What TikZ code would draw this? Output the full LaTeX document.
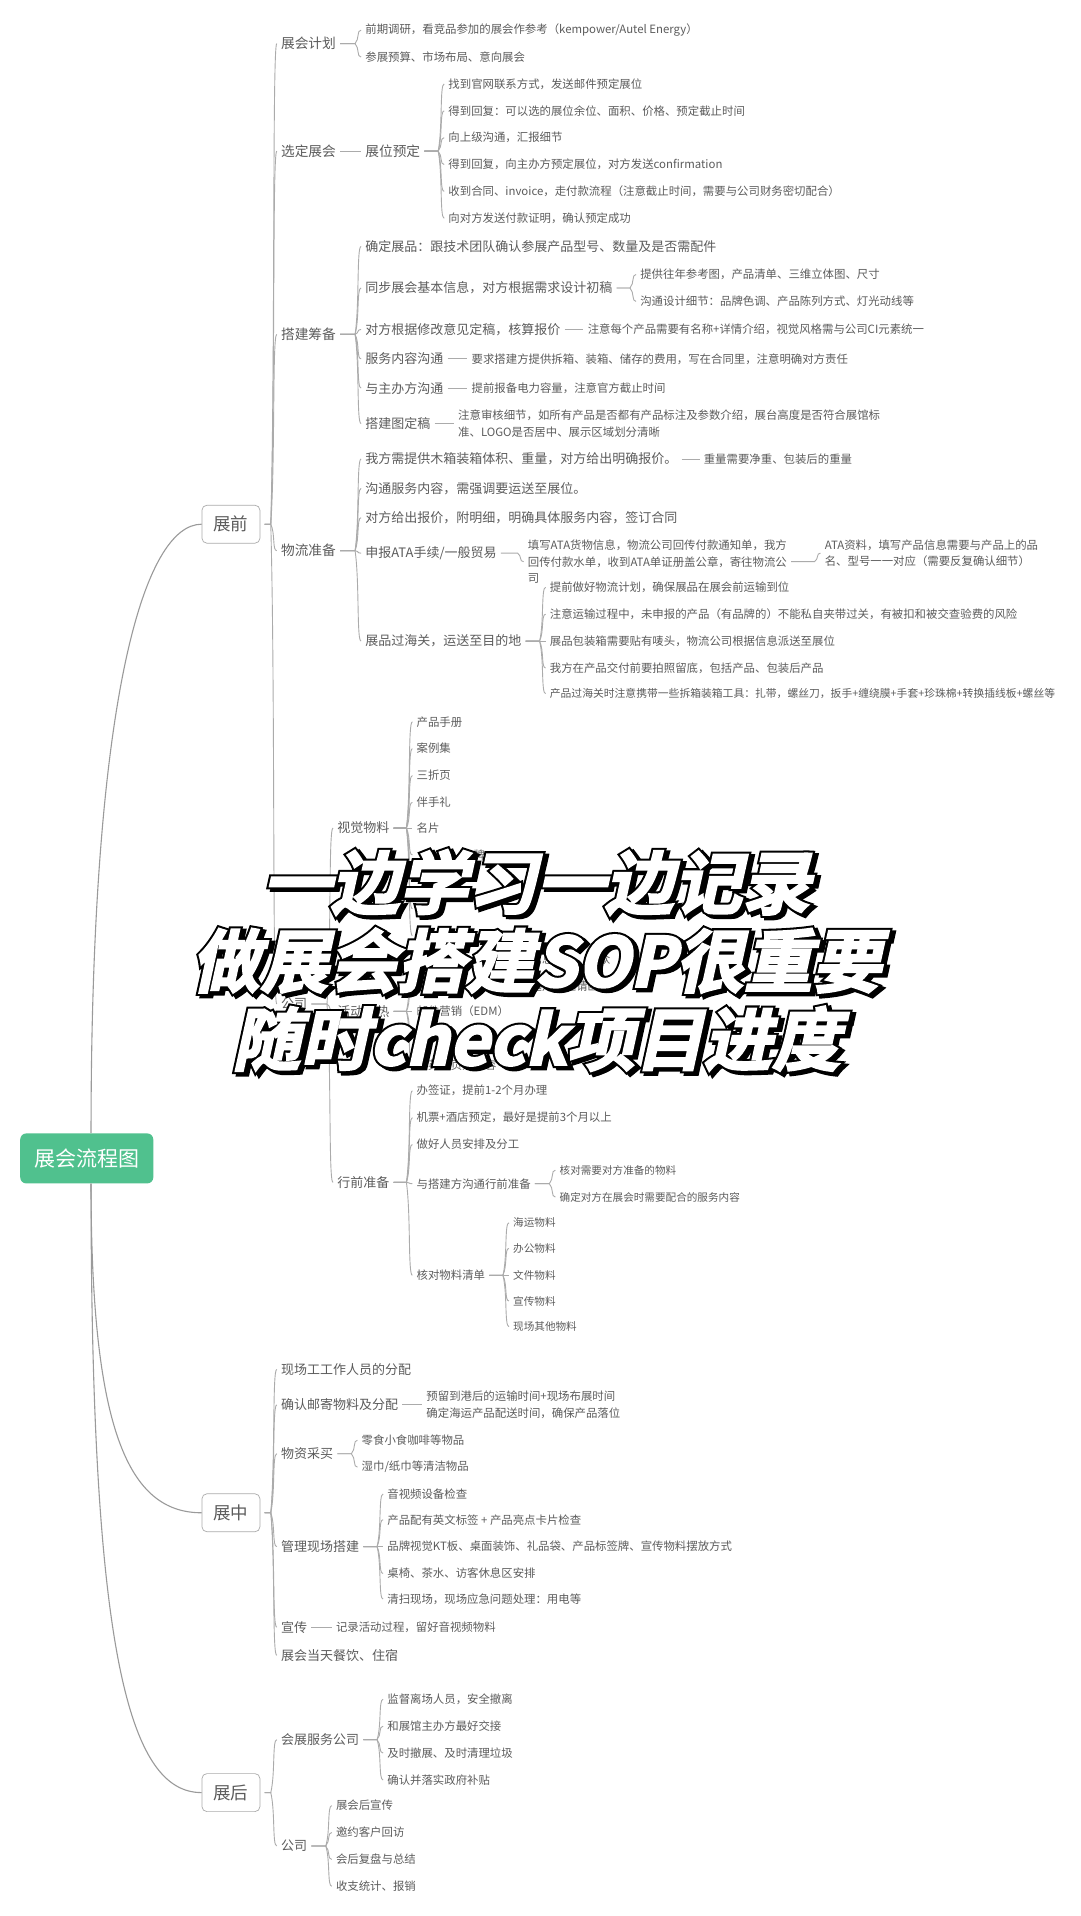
\documentclass[tikz,border=0pt]{standalone}
\usepackage{fontspec}
\usetikzlibrary{calc}
\setmainfont{Noto Sans CJK SC}
\newfontfamily\ovltop[FakeSlant=0.22,FakeBold=3]{Noto Sans CJK SC Bold}
\newfontfamily\ovlline[FakeSlant=0.22,FakeBold=9]{Noto Sans CJK SC Bold}
\definecolor{inkc}{HTML}{5C5C5C}
\definecolor{linkc}{HTML}{ABABAB}
\definecolor{trunkc}{HTML}{9A9A9A}
\definecolor{rootc}{HTML}{50C18E}
\tikzset{
 txb/.style={anchor=west,inner sep=0pt,outer sep=0pt,text=inkc,align=left,yshift=-0.8pt},
 ta/.style={txb,font=\fontsize{13.7}{17}\selectfont},
 tb/.style={txb,font=\fontsize{13}{17}\selectfont},
 te/.style={txb,font=\fontsize{11.4}{17}\selectfont},
 tc/.style={txb,font=\fontsize{11.4}{16.8}\selectfont},
 tf/.style={txb,font=\fontsize{10.8}{16.8}\selectfont},
 td/.style={txb,font=\fontsize{10.6}{14}\selectfont},
 topbox/.style={draw=linkc,line width=0.7pt,rounded corners=5pt,minimum width=58pt,minimum height=38pt,inner sep=0pt,text=inkc,font=\fontsize{17.5}{20}\selectfont,fill=white},
 rootbox/.style={fill=rootc,rounded corners=6pt,minimum width=133pt,minimum height=50pt,inner sep=0pt,text=white,font=\fontsize{21}{24}\selectfont},
 linkline/.style={draw=linkc,line width=0.9pt},
 trunkline/.style={draw=trunkc,line width=1.1pt},
 ovlshadow/.style={inner sep=0pt,text=black,align=center,font=\ovlline\fontsize{68.5}{78.2}\selectfont},
 ovlface/.style={inner sep=0pt,text=white,align=center,font=\ovltop\fontsize{68.5}{78.2}\selectfont},
}
\newcommand{\kids}[2]{%
 \path (#1.east) ++(3.5,0) coordinate (pa);
 \foreach \k in {#2}{%
  \path (\k.west) ++(-3.5,0) coordinate (cc);
  \draw[linkline] let \p1=(cc),\p2=(pa) in (pa) -- (\x1-6pt,\y2) .. controls (\x1-1.5pt,{\y2+0.35*(\y1-\y2)}) and (\x1-4.5pt,\y1) .. (\x1,\y1);
 }}
\begin{document}
\begin{tikzpicture}[x=1.22172pt,y=-1.22172pt]
\useasboundingbox[fill=white] (0,0) rectangle (884,1568);
\node[rootbox] (root) at (71,948) {展会流程图};
\node[topbox] (pre) at (189,429) {展前};
\node[topbox] (mid) at (189,1238) {展中};
\node[topbox] (post) at (189,1467) {展后};
\draw[trunkline] ($(root.north)+(3.5,0)$) .. controls (74.5,570) and (118,429) .. (pre.west);
\draw[trunkline] ($(root.south)+(3.5,0)$) .. controls (74.5,1170) and (105,1238) .. (mid.west);
\draw[trunkline] ($(root.south)+(3.5,0)$) .. controls (74.5,1350) and (105,1467) .. (post.west);
% --- pre
\node[ta] (a1) at (230,35) {展会计划};
\node[te] (a1a) at (299,24) {前期调研，看竞品参加的展会作参考（kempower/Autel Energy）};
\node[te] (a1b) at (299,46) {参展预算、市场布局、意向展会};
\node[ta] (a2) at (230,123) {选定展会};
\node[ta] (a2a) at (299,123) {展位预定};
\node[tc] (a2a1) at (367,68) {找到官网联系方式，发送邮件预定展位};
\node[tc] (a2a2) at (367,90) {得到回复：可以选的展位余位、面积、价格、预定截止时间};
\node[tc] (a2a3) at (367,112) {向上级沟通，汇报细节};
\node[tc] (a2a4) at (367,134) {得到回复，向主办方预定展位，对方发送confirmation};
\node[tc] (a2a5) at (367,156) {收到合同、invoice，走付款流程（注意截止时间，需要与公司财务密切配合）};
\node[tc] (a2a6) at (367,178) {向对方发送付款证明，确认预定成功};
\node[ta] (a3) at (230,273) {搭建筹备};
\node[tb] (a3a) at (299,201) {确定展品：跟技术团队确认参展产品型号、数量及是否需配件};
\node[tb] (a3b) at (299,235) {同步展会基本信息，对方根据需求设计初稿};
\node[tc] (a3b1) at (524,224) {提供往年参考图，产品清单、三维立体图、尺寸};
\node[tc] (a3b2) at (524,246) {沟通设计细节：品牌色调、产品陈列方式、灯光动线等};
\node[tb] (a3c) at (299,269) {对方根据修改意见定稿，核算报价};
\node[tc] (a3c1) at (481,269) {注意每个产品需要有名称+详情介绍，视觉风格需与公司CI元素统一};
\node[tb] (a3d) at (299,293) {服务内容沟通};
\node[tc] (a3d1) at (386,293) {要求搭建方提供拆箱、装箱、储存的费用，写在合同里，注意明确对方责任};
\node[tb] (a3e) at (299,317) {与主办方沟通};
\node[tc] (a3e1) at (386,317) {提前报备电力容量，注意官方截止时间};
\node[tb] (a3f) at (299,346) {搭建图定稿};
\node[tc] (a3f1) at (375,346) {注意审核细节，如所有产品是否都有产品标注及参数介绍，展台高度是否符合展馆标\\准、LOGO是否居中、展示区域划分清晰};
\node[ta] (a4) at (230,450) {物流准备};
\node[tb] (a4a) at (299,375) {我方需提供木箱装箱体积、重量，对方给出明确报价。};
\node[tc] (a4a1) at (576,375) {重量需要净重、包装后的重量};
\node[tb] (a4b) at (299,399) {沟通服务内容，需强调要运送至展位。};
\node[tb] (a4c) at (299,423) {对方给出报价，附明细，明确具体服务内容，签订合同};
\node[tb] (a4d) at (299,452) {申报ATA手续/一般贸易};
\node[tc] (a4d1) at (432,459) {填写ATA货物信息，物流公司回传付款通知单，我方\\回传付款水单，收到ATA单证册盖公章，寄往物流公\\司};
\node[tc] (a4d2) at (675,452) {ATA资料，填写产品信息需要与产品上的品\\名、型号一一对应（需要反复确认细节）};
\node[tb] (a4e) at (299,524) {展品过海关，运送至目的地};
\node[tc] (a4e1) at (450,480) {提前做好物流计划，确保展品在展会前运输到位};
\node[tc] (a4e2) at (450,502) {注意运输过程中，未申报的产品（有品牌的）不能私自夹带过关，有被扣和被交查验费的风险};
\node[tc] (a4e3) at (450,524) {展品包装箱需要贴有唛头，物流公司根据信息派送至展位};
\node[tc] (a4e4) at (450,546) {我方在产品交付前要拍照留底，包括产品、包装后产品};
\node[tf] (a4e5) at (450,567) {产品过海关时注意携带一些拆箱装箱工具：扎带，螺丝刀，扳手+缠绕膜+手套+珍珠棉+转换插线板+螺丝等};
\node[tb] (a5) at (230,821) {公司};
\node[tb] (a5a) at (276,677) {视觉物料};
\node[tc] (v1) at (341,590) {产品手册};
\node[tc] (v2) at (341,612) {案例集};
\node[tc] (v3) at (341,634) {三折页};
\node[tc] (v4) at (341,656) {伴手礼};
\node[tc] (v5) at (341,677) {名片};
\node[tc] (v6) at (341,699) {\hphantom{展会展会展}牌};
\node[tc] (v7) at (341,721) {\hphantom{展会展会}};
\node[tc] (v8) at (341,743) {\hphantom{展}目};
\node[tc] (v9) at (341,765) {\hphantom{展会展会}};
\node[tb] (a5b) at (276,827) {活动预热};
\node[tc] (w1) at (341,784) {\hphantom{展会展会展会展会展会}信息\hphantom{展会展}受众};
\node[tc] (w2) at (341,806) {\hphantom{展会展会展会展会展}及选定制邀请函样本};
\node[tc] (w3) at (341,827) {邮件营销（EDM）};
\node[tc] (w4) at (341,849) {\hphantom{展会展会}};
\node[tc] (w5) at (341,871) {领英主页贴内容};
\node[tb] (a5c) at (276,967) {行前准备};
\node[tc] (x1) at (341,892) {办签证，提前1-2个月办理};
\node[tc] (x2) at (341,914) {机票+酒店预定，最好是提前3个月以上};
\node[tc] (x3) at (341,936) {做好人员安排及分工};
\node[tc] (x4) at (341,968) {与搭建方沟通行前准备};
\node[td] (x4a) at (458,957) {核对需要对方准备的物料};
\node[td] (x4b) at (458,979) {确定对方在展会时需要配合的服务内容};
\node[tc] (x5) at (341,1043) {核对物料清单};
\node[td] (x5a) at (420,1000) {海运物料};
\node[td] (x5b) at (420,1021) {办公物料};
\node[td] (x5c) at (420,1043) {文件物料};
\node[td] (x5d) at (420,1064) {宣传物料};
\node[td] (x5e) at (420,1085) {现场其他物料};
\kids{pre}{a1,a2,a3,a4,a5}
\kids{a1}{a1a,a1b}
\kids{a2}{a2a}
\kids{a2a}{a2a1,a2a2,a2a3,a2a4,a2a5,a2a6}
\kids{a3}{a3a,a3b,a3c,a3d,a3e,a3f}
\kids{a3b}{a3b1,a3b2}
\kids{a3c}{a3c1}
\kids{a3d}{a3d1}
\kids{a3e}{a3e1}
\kids{a3f}{a3f1}
\kids{a4}{a4a,a4b,a4c,a4d,a4e}
\kids{a4a}{a4a1}
\kids{a4d}{a4d1}
\kids{a4d1}{a4d2}
\kids{a4e}{a4e1,a4e2,a4e3,a4e4,a4e5}
\kids{a5}{a5a,a5b,a5c}
\kids{a5a}{v1,v2,v3,v4,v5,v6,v7,v8,v9}
\kids{a5b}{w1,w2,w3,w4,w5}
\kids{a5c}{x1,x2,x3,x4,x5}
\kids{x4}{x4a,x4b}
\kids{x5}{x5a,x5b,x5c,x5d,x5e}
% --- mid
\node[tb] (b1) at (230,1120) {现场工工作人员的分配};
\node[tb] (b2) at (230,1149) {确认邮寄物料及分配};
\node[tc] (b2a) at (349,1149) {预留到港后的运输时间+现场布展时间\\确定海运产品配送时间，确保产品落位};
\node[tb] (b3) at (230,1189) {物资采买};
\node[tc] (b3a) at (296,1178) {零食小食咖啡等物品};
\node[tc] (b3b) at (296,1200) {湿巾/纸巾等清洁物品};
\node[tb] (b4) at (230,1265) {管理现场搭建};
\node[tc] (b4a) at (317,1222) {音视频设备检查};
\node[tc] (b4b) at (317,1243) {产品配有英文标签 + 产品亮点卡片检查};
\node[tc] (b4c) at (317,1265) {品牌视觉KT板、桌面装饰、礼品袋、产品标签牌、宣传物料摆放方式};
\node[tc] (b4d) at (317,1287) {桌椅、茶水、访客休息区安排};
\node[tc] (b4e) at (317,1308) {清扫现场，现场应急问题处理：用电等};
\node[tb] (b5) at (230,1331) {宣传};
\node[tc] (b5a) at (275,1331) {记录活动过程，留好音视频物料};
\node[tb] (b6) at (230,1354) {展会当天餐饮、住宿};
\kids{mid}{b1,b2,b3,b4,b5,b6}
\kids{b2}{b2a}
\kids{b3}{b3a,b3b}
\kids{b4}{b4a,b4b,b4c,b4d,b4e}
\kids{b5}{b5a}
% --- post
\node[tb] (c1) at (230,1423) {会展服务公司};
\node[tc] (c1a) at (317,1390) {监督离场人员，安全撤离};
\node[tc] (c1b) at (317,1412) {和展馆主办方最好交接};
\node[tc] (c1c) at (317,1434) {及时撤展、及时清理垃圾};
\node[tc] (c1d) at (317,1456) {确认并落实政府补贴};
\node[tb] (c2) at (230,1510) {公司};
\node[tc] (c2a) at (275,1477) {展会后宣传};
\node[tc] (c2b) at (275,1499) {邀约客户回访};
\node[tc] (c2c) at (275,1521) {会后复盘与总结};
\node[tc] (c2d) at (275,1543) {收支统计、报销};
\kids{post}{c1,c2}
\kids{c1}{c1a,c1b,c1c,c1d}
\kids{c2}{c2a,c2b,c2c,c2d}
% --- overlay caption
\node[ovlshadow] (ovs) at (442,788) {一边学习一边记录\\做展会搭建SOP很重要\\随时check项目进度};
\node[ovlshadow] (ovl) at (439,786) {一边学习一边记录\\做展会搭建SOP很重要\\随时check项目进度};
\node[ovlface] (ovf) at (439,786) {一边学习一边记录\\做展会搭建SOP很重要\\随时check项目进度};
\end{tikzpicture}
\end{document}
